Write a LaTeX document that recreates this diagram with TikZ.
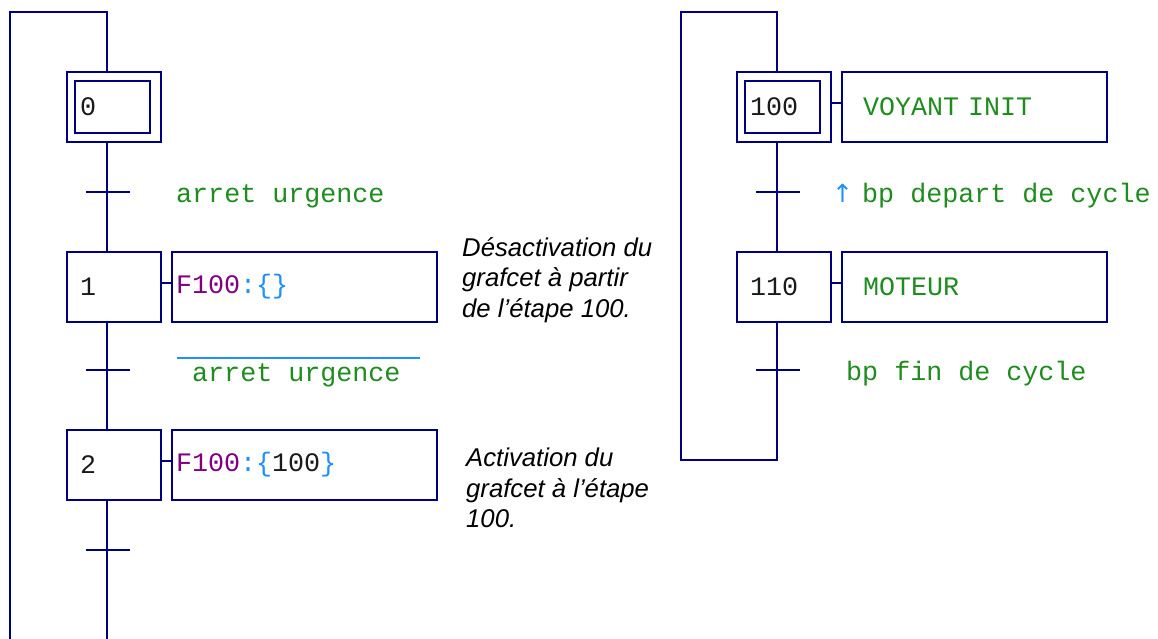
\documentclass[tikz,border=0pt]{standalone}
\usepackage{fontspec}
\usetikzlibrary{positioning, calc}
\newfontfamily\policemono{Liberation Mono}
\newfontfamily\policecom{Liberation Sans}
\newfontfamily\policesymb{DejaVu Sans}
\definecolor{traitBleu}{HTML}{000080}
\definecolor{texteVert}{HTML}{1E8C1E}
\definecolor{texteViolet}{HTML}{800080}
\definecolor{texteBleu}{HTML}{1E90FF}
\definecolor{texteNoir}{HTML}{1A1A1A}

\begin{document}
\begin{tikzpicture}[x=1pt, y=-1pt,
    trait/.style={draw=traitBleu, line width=2pt},
    etape/.style={rectangle, trait, minimum height=70pt, text width=68pt,
                  inner xsep=13pt, inner ysep=0pt, align=left,
                  font=\policemono\fontsize{26.7}{32}\selectfont, text=texteNoir},
    action/.style={rectangle, trait, minimum width=265pt, minimum height=70pt,
                   text width=257pt, inner xsep=4pt, inner ysep=0pt, align=left,
                   font=\policemono\fontsize{26.7}{32}\selectfont, text=texteVert},
    transi/.style={rectangle, fill=traitBleu, minimum width=44pt,
                   minimum height=2pt, inner sep=0pt},
    recept/.style={inner sep=0pt, anchor=base west,
                   font=\policemono\fontsize{26.7}{32}\selectfont, text=texteVert},
    comment/.style={inner sep=0pt, anchor=north west, align=left, text=black,
                    font=\policecom\itshape\fontsize{25.7}{30.5}\selectfont},
  ]
    \useasboundingbox (0,0) rectangle (1158,639);

    % ─── LEFT GRAFCET: steps and actions ───
    \node[etape] (e0) at (114, 107) {0};
    \draw[trait] ([shift={(9,10)}]e0.north west) rectangle ([shift={(-12,-10)}]e0.south east);
    \node[etape] (e1) at (114, 286.5) {1};
    \node[etape] (e2) at (114, 465) {2};
    \node[action] (a1) at (304.5, 286.5)
      {\textcolor{texteViolet}{F100}\textcolor{texteBleu}{:\{\}}};
    \node[action] (a2) at (304.5, 465)
      {\textcolor{texteViolet}{F100}\textcolor{texteBleu}{:\{}\textcolor{texteNoir}{100}\textcolor{texteBleu}{\}}};
    \draw[trait] ([yshift=4pt]e1.east) -- ([yshift=4pt]a1.west);
    \draw[trait] ([yshift=4pt]e2.east) -- ([yshift=4pt]a2.west);

    % ─── RIGHT GRAFCET: steps and actions ───
    \node[etape] (e100) at (784, 107) {100};
    \draw[trait] ([shift={(9,10)}]e100.north west) rectangle ([shift={(-12,-10)}]e100.south east);
    \node[etape] (e110) at (784, 286.5) {110};
    \node[action, inner xsep=21pt, text width=223pt] (a100) at (974.5, 107) {VOYANT INIT};
    \node[action, inner xsep=21pt, text width=223pt] (a110) at (974.5, 286.5) {MOTEUR};
    \draw[trait] ([yshift=4pt]e100.east) -- ([yshift=4pt]a100.west);
    \draw[trait] ([yshift=4pt]e110.east) -- ([yshift=4pt]a110.west);

    % ─── Transitions ───
    \foreach \n/\x/\y in {t01/108/192, t12/108/370, t20/108/550, t100/778/192, t110/778/370}{
      \node[transi] (\n) at (\x, \y) {};
    }

    % ─── Links and loops ───
    \coordinate (axeG) at (107, 0);
    \coordinate (hautG) at (10, 12);
    \coordinate (basG) at (107, 639.5);
    \draw[trait] (e0.south -| axeG) -- (e1.north -| axeG);
    \draw[trait] (e1.south -| axeG) -- (e2.north -| axeG);
    \draw[trait] (e2.south -| axeG) -- (basG) -- (basG -| hautG) -- (hautG) -| (e0.north -| axeG);

    \coordinate (axeD) at (777, 0);
    \coordinate (hautD) at (681, 12);
    \coordinate (basD) at (777, 460);
    \draw[trait] (e100.south -| axeD) -- (e110.north -| axeD);
    \draw[trait] (e110.south -| axeD) -- (basD) -- (basD -| hautD) -- (hautD) -| (e100.north -| axeD);

    % ─── Receptivities ───
    \node[recept] (r01) at (176, 202) {arret urgence};
    \node[recept] (r12) at (192, 381) {arret urgence};
    \draw[texteBleu, line width=1.5pt]
      ([shift={(-15,-23)}]r12.base west) -- ([shift={(19,-23)}]r12.base east);
    \node[recept, anchor=base, text=texteBleu, font=\policesymb\fontsize{25}{30}\selectfont]
      (front) at (842.5, 202) {↑};
    \node[recept] (r100) at (862, 202) {bp depart de cycle};
    \node[recept] (r110) at (846, 380) {bp fin de cycle};

    % ─── Comments ───
    \node[comment] (c1) at (462, 237) {Désactivation du\\grafcet à partir\\de l’étape 100.};
    \node[comment] (c2) at (466, 448) {Activation du\\grafcet à l’étape\\100.};
  \end{tikzpicture}
\end{document}
